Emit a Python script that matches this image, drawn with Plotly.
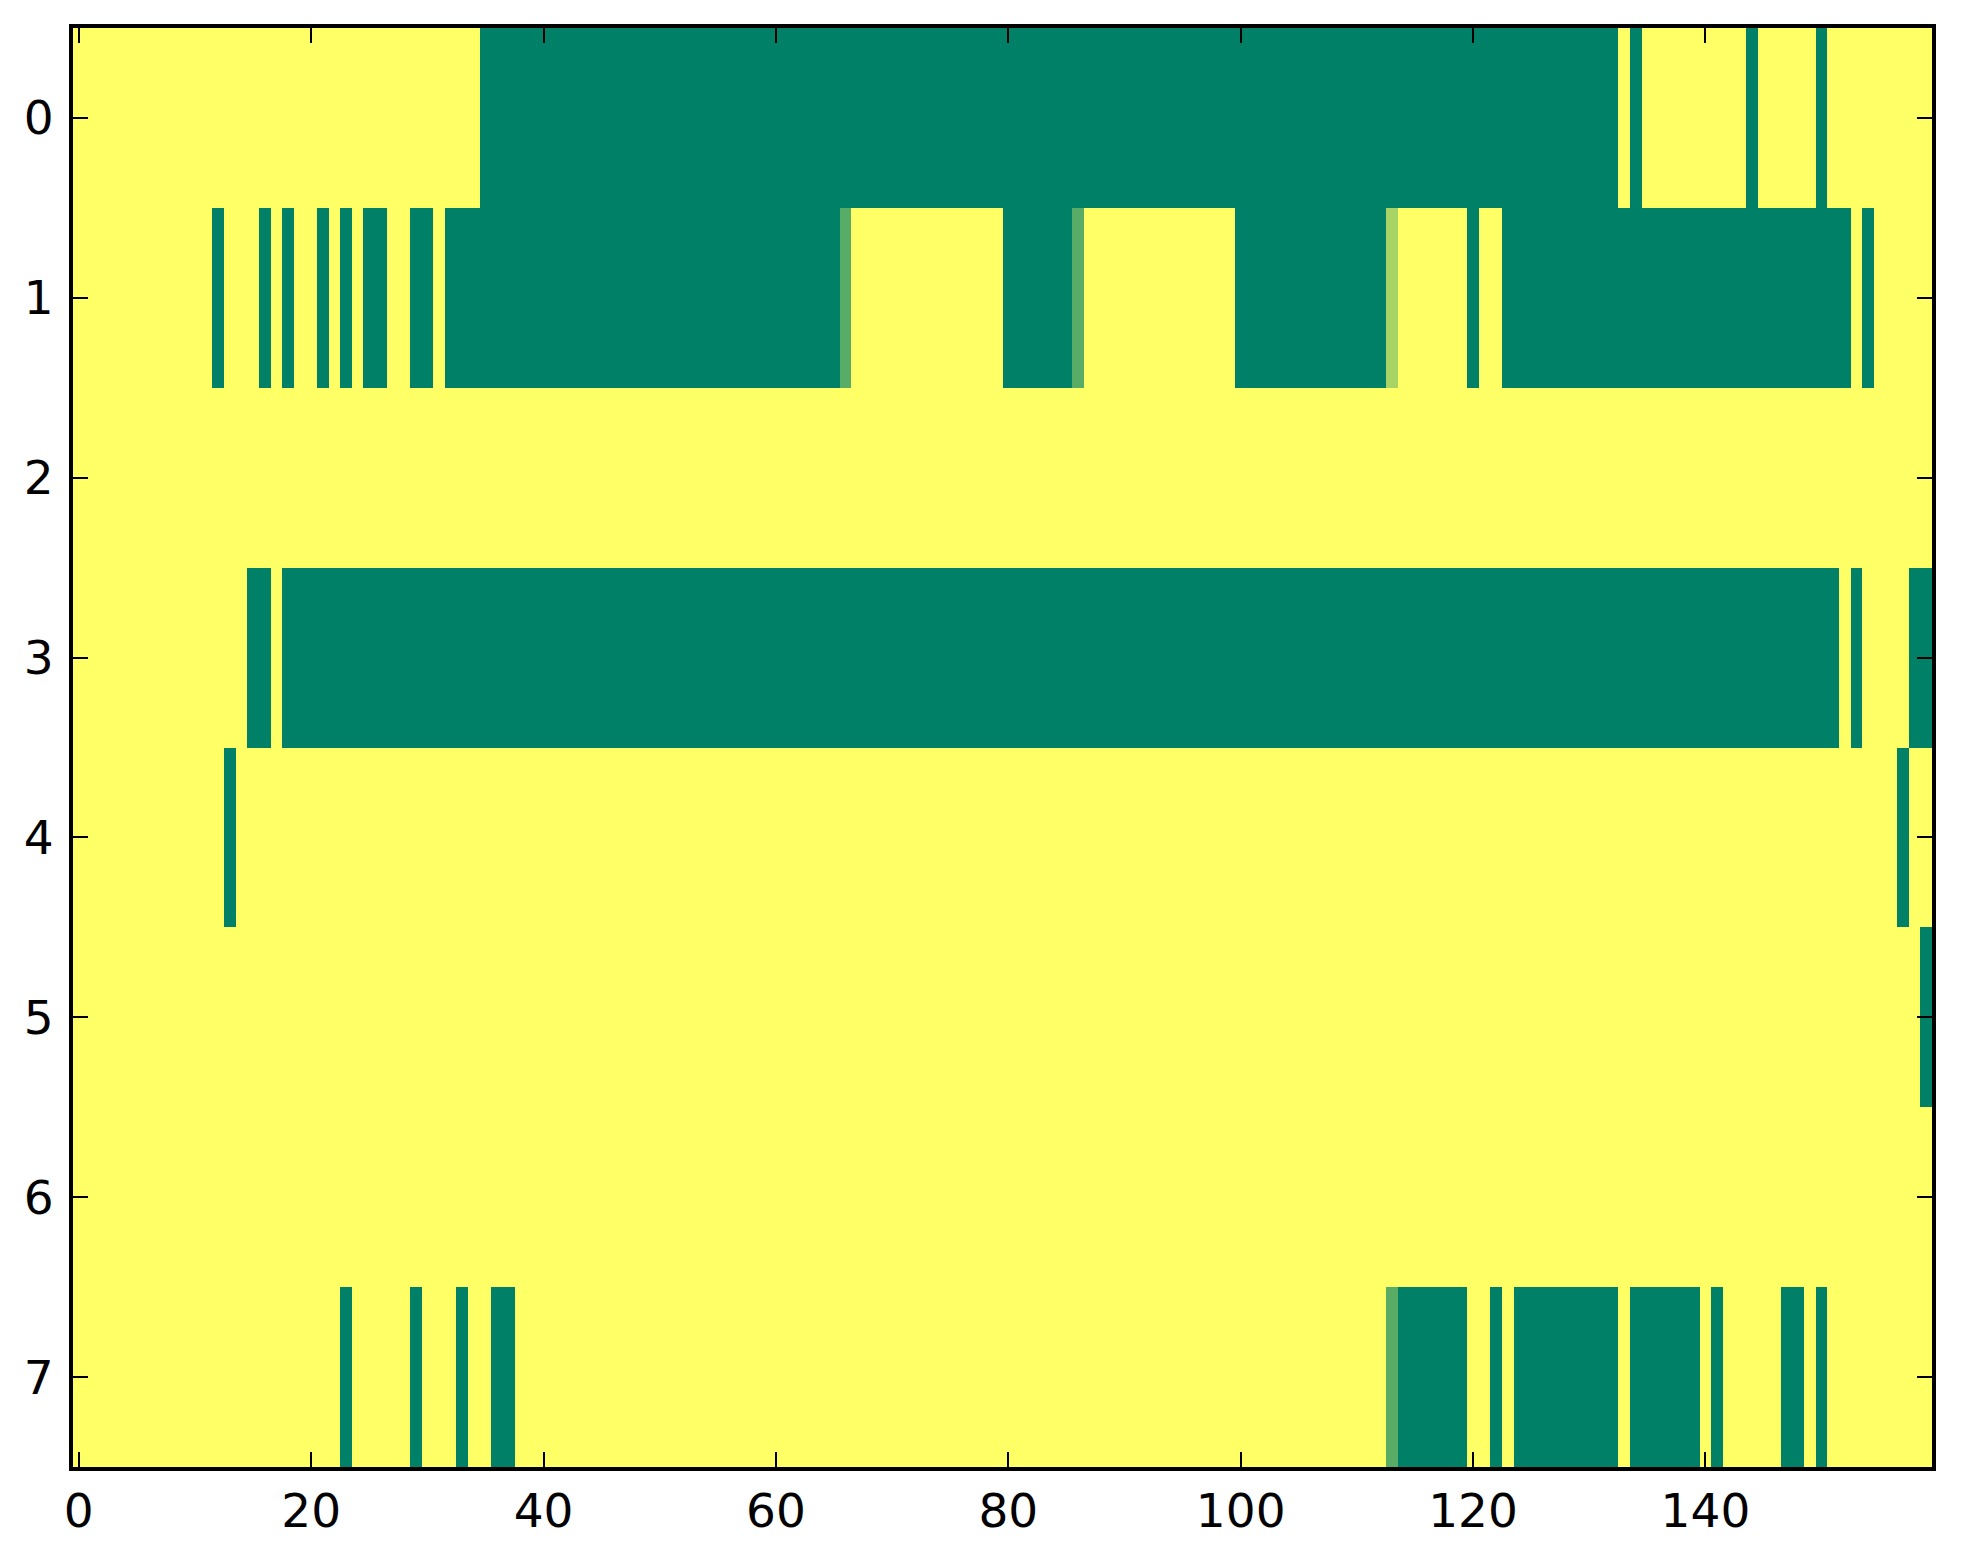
import plotly.graph_objects as go

# image grid: 8 rows x 160 columns, value 1 = yellow, 0 = green (summer cmap)
rows = list(range(8))
cols = list(range(160))

# inclusive column runs that are at 0 (green), per row
low_runs_row0 = [(35, 132), (134, 134), (144, 144), (150, 150)]
low_runs_row1 = [(12, 12), (16, 16), (18, 18), (21, 21), (23, 23), (25, 26), (29, 30),
                 (32, 65), (80, 85), (100, 112), (120, 120), (123, 152), (154, 154)]
low_runs_row2 = []
low_runs_row3 = [(15, 16), (18, 151), (153, 153), (158, 159)]
low_runs_row4 = [(13, 13), (157, 157)]
low_runs_row5 = [(159, 159)]
low_runs_row6 = []
low_runs_row7 = [(23, 23), (29, 29), (33, 33), (36, 37), (114, 119), (122, 122),
                 (124, 132), (134, 139), (141, 141), (147, 148), (150, 150)]

# cells with in-between values: (row, col, value)
partial_cells = [(1, 66, 0.35), (1, 86, 0.35), (1, 113, 0.66), (7, 113, 0.35)]

xticks = [0, 20, 40, 60, 80, 100, 120, 140]

all_runs = [low_runs_row0, low_runs_row1, low_runs_row2, low_runs_row3,
            low_runs_row4, low_runs_row5, low_runs_row6, low_runs_row7]

z = []
for r in rows:
    line = [1.0 for c in cols]
    for a, b in all_runs[r]:
        for c in range(a, b + 1):
            line[c] = 0.0
    z.append(line)
for r, c, v in partial_cells:
    z[r][c] = v

summer = [[0.0, 'rgb(0,128,102)'], [1.0, 'rgb(255,255,102)']]

fig = go.Figure(go.Heatmap(
    z=z, x=cols, y=rows,
    colorscale=summer, zmin=0, zmax=1,
    showscale=False, hoverongaps=False,
))

axis_style = dict(
    showline=True, linecolor='black', linewidth=4, mirror='ticks',
    ticks='inside', ticklen=15, tickwidth=2, tickcolor='black',
    showgrid=False, zeroline=False,
)
fig.update_xaxes(range=[-0.5, 159.5], tickvals=xticks, ticklabelstandoff=0, **axis_style)
fig.update_yaxes(range=[7.5, -0.5], tickvals=rows, ticklabelstandoff=6, **axis_style)

# page body has an 8px margin, so the figure is sized and offset for it
fig.update_layout(
    width=1947, height=1548,
    margin=dict(l=65, r=23, t=20, b=89),
    paper_bgcolor='white', plot_bgcolor='white',
    font=dict(family='DejaVu Sans', size=47, color='black'),
)

fig.write_html("out.html")
